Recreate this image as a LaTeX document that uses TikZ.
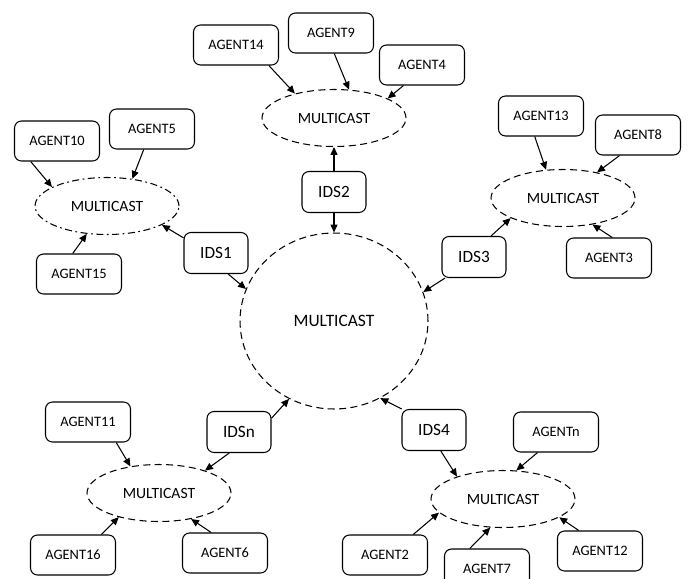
\documentclass[tikz,border=0pt]{standalone}
\usepackage{fontspec}
\setmainfont{Carlito}
\usetikzlibrary{arrows.meta,shapes.geometric}

\begin{document}
\begin{tikzpicture}[x=0.02cm,y=-0.02cm,
    agent/.style={draw,rounded corners=4pt,line width=0.6pt,
        minimum width=1.7cm,minimum height=0.8cm,
        font=\fontsize{8.2}{9}\selectfont},
    ids/.style={draw,rounded corners=4pt,line width=0.6pt,
        minimum width=1.28cm,minimum height=0.82cm,
        font=\fontsize{9.8}{11}\selectfont},
    mcast/.style={ellipse,draw,line width=0.6pt,inner sep=0pt,
        dash pattern=on 4pt off 2.5pt,
        minimum width=2.88cm,minimum height=1.14cm,
        font=\fontsize{8.9}{10}\selectfont},
    link/.style={-{Triangle[length=4.5pt,width=4pt]},line width=0.6pt}]

    \useasboundingbox (0,0) rectangle (688,578);

    % central group
    \node[mcast,minimum width=3.76cm,minimum height=3.52cm,
        font=\fontsize{9.9}{11}\selectfont] (core) at (334,321) {MULTICAST};

    % IDS nodes around the core
    \node[ids] (ids1) at (216,253) {IDS1};
    \node[ids] (ids2) at (334,192) {IDS2};
    \node[ids] (ids3) at (474,257) {IDS3};
    \node[ids] (ids4) at (434,430) {IDS4};
    \node[ids] (idsn) at (239,432) {IDSn};

    % outer groups
    \node[mcast,dash pattern=on 4pt off 2pt on 1pt off 2pt] (m1) at (107,206) {MULTICAST};
    \node[mcast] (m2) at (334,118) {MULTICAST};
    \node[mcast] (m3) at (563,198) {MULTICAST};
    \node[mcast] (m4) at (503,499) {MULTICAST};
    \node[mcast] (mn) at (159,493) {MULTICAST};

    % agents
    \node[agent] (a10) at (57,141) {AGENT10};
    \node[agent] (a5) at (152,129) {AGENT5};
    \node[agent] (a15) at (79,274) {AGENT15};

    \node[agent] (a14) at (236,45) {AGENT14};
    \node[agent] (a9) at (331,33) {AGENT9};
    \node[agent] (a4) at (422,65) {AGENT4};

    \node[agent] (a13) at (541,116) {AGENT13};
    \node[agent] (a8) at (638,135) {AGENT8};
    \node[agent] (a3) at (609,258) {AGENT3};

    \node[agent] (a11) at (88,422) {AGENT11};
    \node[agent] (a16) at (73,555) {AGENT16};
    \node[agent] (a6) at (225,553) {AGENT6};

    \node[agent] (an) at (556,432) {AGENTn};
    \node[agent] (a2) at (385,555) {AGENT2};
    \node[agent] (a7) at (487,569) {AGENT7};
    \node[agent] (a12) at (600,551) {AGENT12};

    % IDS links
    \draw[link] (ids1.155) -- (m1.341);
    \draw[link] (ids1.300) -- (core.160);
    \draw[link] (ids2.north) -- (m2.south);
    \draw[link] (ids2.south) -- (core.north);
    \draw[link] (ids3.51) -- (m3.201);
    \draw[link] (ids3.216) -- (core.18);
    \draw[link] (ids4.288) -- (m4.154);
    \draw[link] (ids4.147) -- (core.301);
    \draw[link] (idsn.245) -- (mn.26);
    \draw[link] (idsn.23) -- (core.240);

    % agent links
    \draw[link] (a10.218) -- (m1.161);
    \draw[link] (a5.248) -- (m1.47);
    \draw[link] (a15.107) -- (m1.234);

    \draw[link] (a14.328) -- (m2.148);
    \draw[link] (a9.279) -- (m2.62);
    \draw[link] (a4.228) -- (m2.20);

    \draw[link] (a13.253) -- (m3.121);
    \draw[link] (a8.228) -- (m3.37);
    \draw[link] (a3.81) -- (m3.318);

    \draw[link] (a11.324) -- (mn.137);
    \draw[link] (a16.36) -- (mn.211);
    \draw[link] (a6.124) -- (mn.321);

    \draw[link] (an.228) -- (m4.65);
    \draw[link] (a2.36) -- (m4.192);
    \draw[link] (a7.130) -- (m4.246);
    \draw[link] (a12.136) -- (m4.342);

\end{tikzpicture}
\end{document}
